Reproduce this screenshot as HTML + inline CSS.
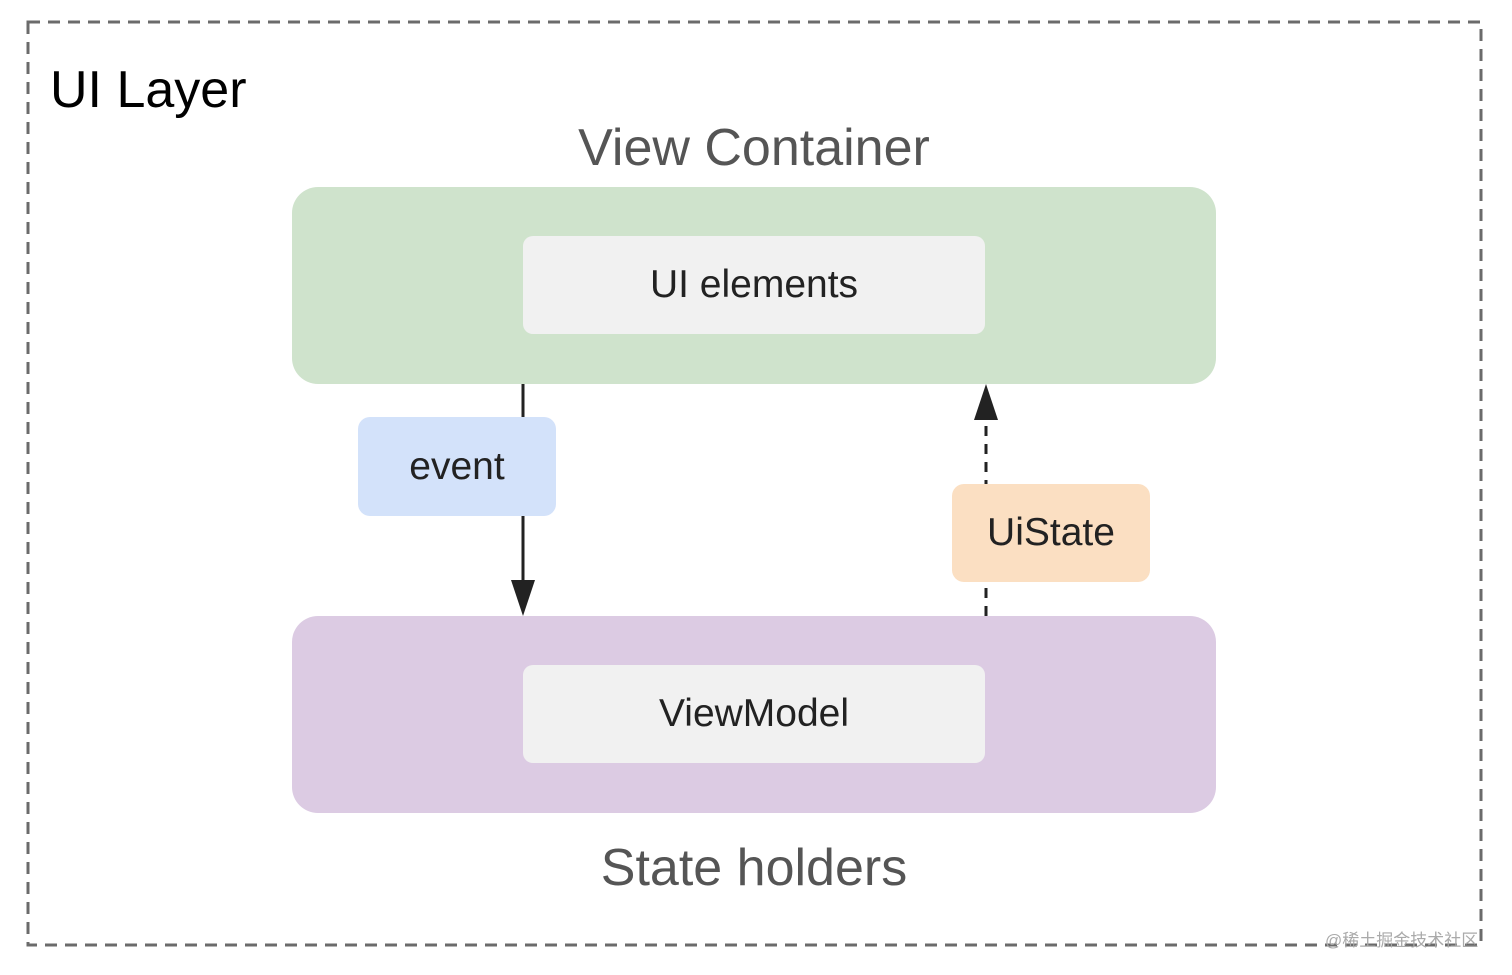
<!DOCTYPE html>
<html><head><meta charset="utf-8"><style>
body{margin:0;width:1512px;height:975px;background:#fff;overflow:hidden;position:relative;font-family:"Liberation Sans","Noto Sans CJK SC",sans-serif}
.a{position:absolute}
.box{position:absolute;display:flex;align-items:center;justify-content:center;color:#222}
</style></head><body>
<svg class="a" style="left:0;top:0" width="1512" height="975">
<rect x="28" y="22" width="1453" height="923" fill="none" stroke="#6b6b6b" stroke-width="3" stroke-dasharray="12,8"/>
<rect x="292" y="187" width="924" height="197" rx="26" fill="#cfe3cc"/>
<rect x="292" y="616" width="924" height="197" rx="26" fill="#dccbe3"/>
<rect x="523" y="236" width="462" height="98" rx="10" fill="#f1f1f1"/>
<rect x="523" y="665" width="462" height="98" rx="10" fill="#f1f1f1"/>
<line x1="523" y1="384" x2="523" y2="585" stroke="#222" stroke-width="3"/>
<polygon points="511,580 535,580 523,616" fill="#222"/>
<line x1="986" y1="616" x2="986" y2="418" stroke="#222" stroke-width="3" stroke-dasharray="10,8"/>
<polygon points="974,420 998,420 986,384" fill="#222"/>
<rect x="358" y="417" width="198" height="99" rx="12" fill="#d3e2fa"/>
<rect x="952" y="484" width="198" height="98" rx="12" fill="#fbdfc2"/>
</svg>
<div class="a" style="left:50px;top:60px;font-size:52px;color:#000">UI Layer</div>
<div class="box" style="left:292px;top:115px;width:924px;height:65px;font-size:52px;color:#555">View Container</div>
<div class="box" style="left:292px;top:835px;width:924px;height:65px;font-size:52px;color:#555">State holders</div>
<div class="box" style="left:523px;top:236px;width:462px;height:98px;font-size:39px">UI elements</div>
<div class="box" style="left:523px;top:665px;width:462px;height:98px;font-size:39px">ViewModel</div>
<div class="box" style="left:358px;top:417px;width:198px;height:99px;font-size:39px">event</div>
<div class="box" style="left:952px;top:484px;width:198px;height:98px;font-size:39px">UiState</div>
<div class="a" style="left:1325px;top:926px;font-size:17px;color:#aaa">@稀土掘金技术社区</div>
</body></html>
